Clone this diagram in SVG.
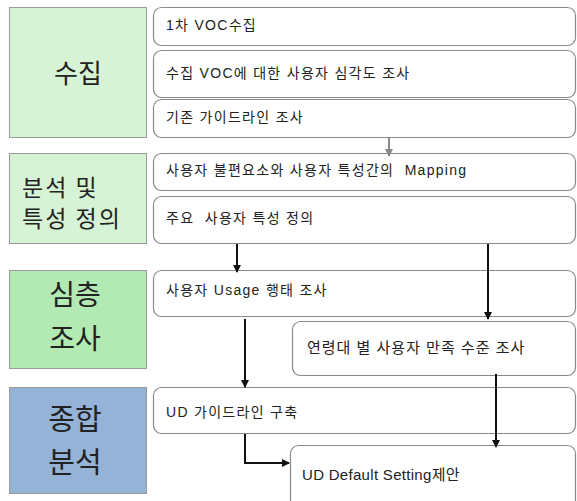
<svg xmlns="http://www.w3.org/2000/svg" width="577" height="501" viewBox="0 0 577 501">
<style>
.stage{stroke:#999;stroke-width:1}
.step{fill:#fff;stroke:#8a8a8a;stroke-width:1.2}
.big{font-family:"Noto Sans CJK KR","Liberation Sans",sans-serif;font-size:26px;fill:#222}
.t{font-family:"Liberation Sans","Noto Sans CJK KR",sans-serif;font-size:14px;letter-spacing:1.3px;fill:#222;white-space:pre}
.c{stroke:#111;stroke-width:2;fill:none}
.g{stroke:#888;stroke-width:2;fill:none}
</style>
<defs>
<marker id="ah" markerWidth="8" markerHeight="8" refX="7" refY="4" orient="auto" markerUnits="userSpaceOnUse"><path d="M0,0 L8,4 L0,8 z" fill="#111"/></marker>
<marker id="ahg" markerWidth="8" markerHeight="8" refX="7" refY="4" orient="auto" markerUnits="userSpaceOnUse"><path d="M0,0 L8,4 L0,8 z" fill="#888"/></marker>
</defs>
<rect width="577" height="501" fill="#fff"/>
<g id="stage-collect"><rect class="stage" x="9.5" y="7.5" width="137" height="130" fill="#d6f3d6"/><text class="big" x="78" y="83" text-anchor="middle">수집</text></g>
<g id="stage-analysis"><rect class="stage" x="9.5" y="153.5" width="137" height="90" fill="#d6f3d6"/><text class="big" x="22" y="196" style="font-size:23px;letter-spacing:2px">분석 및</text><text class="big" x="22" y="227" style="font-size:23px;letter-spacing:2px">특성 정의</text></g>
<g id="stage-deep"><rect class="stage" x="9.5" y="270.5" width="137" height="98" fill="#b3e9b3"/><text class="big" x="75" y="305" text-anchor="middle" style="font-size:28px">심층</text><text class="big" x="75" y="349" text-anchor="middle" style="font-size:28px">조사</text></g>
<g id="stage-synth"><rect class="stage" x="9.5" y="387.5" width="137" height="106" fill="#95b3d7"/><text class="big" x="75" y="430" text-anchor="middle" style="font-size:29px">종합</text><text class="big" x="75" y="473" text-anchor="middle" style="font-size:29px">분석</text></g>

<g id="s1"><rect class="step" x="153.5" y="7.5" width="422" height="38" rx="8"/><text class="t" x="166" y="30">1차 VOC수집</text></g>
<g id="s2"><rect class="step" x="153.5" y="50.5" width="422" height="47" rx="8"/><text class="t" x="166" y="78">수집 VOC에 대한 사용자 심각도 조사</text></g>
<g id="s3"><rect class="step" x="153.5" y="99.5" width="422" height="38" rx="8"/><text class="t" x="166" y="122">기존 가이드라인 조사</text></g>
<g id="s4"><rect class="step" x="153.5" y="153.5" width="422" height="37" rx="8"/><text class="t" x="166" y="175">사용자 불편요소와 사용자 특성간의  Mapping</text></g>
<g id="s5"><rect class="step" x="153.5" y="196.5" width="422" height="47" rx="8"/><text class="t" x="166" y="223">주요  사용자 특성 정의</text></g>
<g id="s6"><rect class="step" x="153.5" y="270.5" width="422" height="46" rx="8"/><text class="t" x="166" y="295">사용자 Usage 행태 조사</text></g>
<g id="s7"><rect class="step" x="292.5" y="321.5" width="283" height="54" rx="8"/><text class="t" x="307" y="353" style="font-size:15px;letter-spacing:1px">연령대 별 사용자 만족 수준 조사</text></g>
<g id="s8"><rect class="step" x="153.5" y="387.5" width="422" height="46" rx="8"/><text class="t" x="166" y="417">UD 가이드라인 구축</text></g>
<g id="s9"><rect class="step" x="290.5" y="445.5" width="285" height="70" rx="8"/><text class="t" x="302" y="480" style="font-size:15px;letter-spacing:0.3px">UD Default Setting제안</text></g>

<g id="connectors">
<path class="g" d="M389,138 V156" marker-end="url(#ahg)"/>
<path class="c" d="M237,244 V272" marker-end="url(#ah)"/>
<path class="c" d="M488,244 V319" marker-end="url(#ah)"/>
<path class="c" d="M245,319 V387" marker-end="url(#ah)"/>
<path class="c" d="M496,374 V447" marker-end="url(#ah)"/>
<path class="c" d="M245,434 V463 H289" marker-end="url(#ah)"/>
</g>
</svg>
